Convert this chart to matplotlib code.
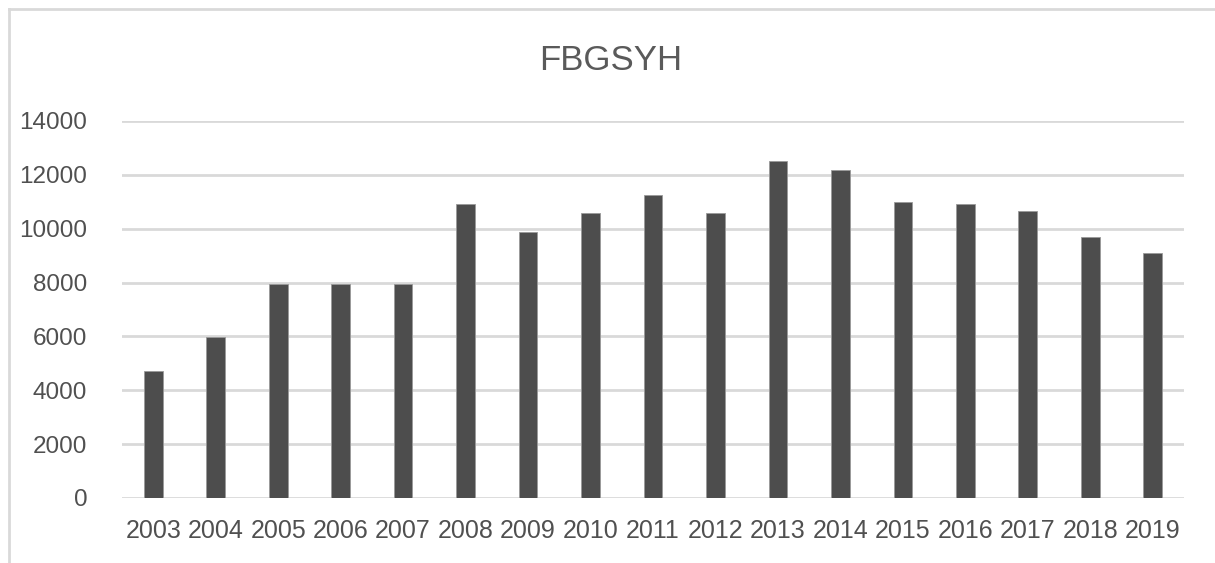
import numpy as np
import matplotlib
matplotlib.use("Agg")
import matplotlib.pyplot as plt
from matplotlib.lines import Line2D

years = ['2003', '2004', '2005', '2006', '2007', '2008', '2009', '2010', '2011',
         '2012', '2013', '2014', '2015', '2016', '2017', '2018', '2019']
values = [4700, 5980, 7950, 7950, 7950, 10900, 9890, 10570, 11240,
          10570, 12510, 12180, 10990, 10900, 10650, 9700, 9110]
yticks = [0, 2000, 4000, 6000, 8000, 10000, 12000, 14000]

plt.rcParams['font.family'] = ['Liberation Sans', 'DejaVu Sans']
text_col = '#505050'

fig = plt.figure(figsize=(12.15, 5.63), dpi=100)
ax = fig.add_axes([122 / 1215, 65 / 563, 1062 / 1215, 377 / 563])

x = np.arange(len(years))
ax.bar(x, values, width=0.3, color='#4d4d4d', edgecolor='#9a9a9a', linewidth=0.6, zorder=3)

ax.set_xlim(-0.5, len(years) - 0.5)
ax.set_ylim(0, 14000)
ax.set_yticks(yticks)
ax.set_yticklabels([str(v) for v in yticks])
ax.set_xticks(x)
ax.set_xticklabels(years)
ax.tick_params(axis='y', length=0, pad=25, labelsize=17.5, labelcolor=text_col)
ax.tick_params(axis='x', length=0, pad=15, labelsize=18, labelcolor=text_col)
ax.grid(axis='y', color='#d9d9d9', linewidth=2, zorder=0)
for s in ax.spines.values():
    s.set_visible(False)

fig.text(611 / 1215, 1 - 60 / 563, 'FBGSYH', ha='center', va='center',
         fontsize=25, color='#5a5a5a')

# chart area border (top and left only visible)
fig.add_artist(Line2D([9 / 1215, 1], [1 - 9 / 563, 1 - 9 / 563], color='#d9d9d9', linewidth=2))
fig.add_artist(Line2D([9 / 1215, 9 / 1215], [0, 1 - 9 / 563], color='#d9d9d9', linewidth=2))

fig.savefig('out.png', dpi=100)
